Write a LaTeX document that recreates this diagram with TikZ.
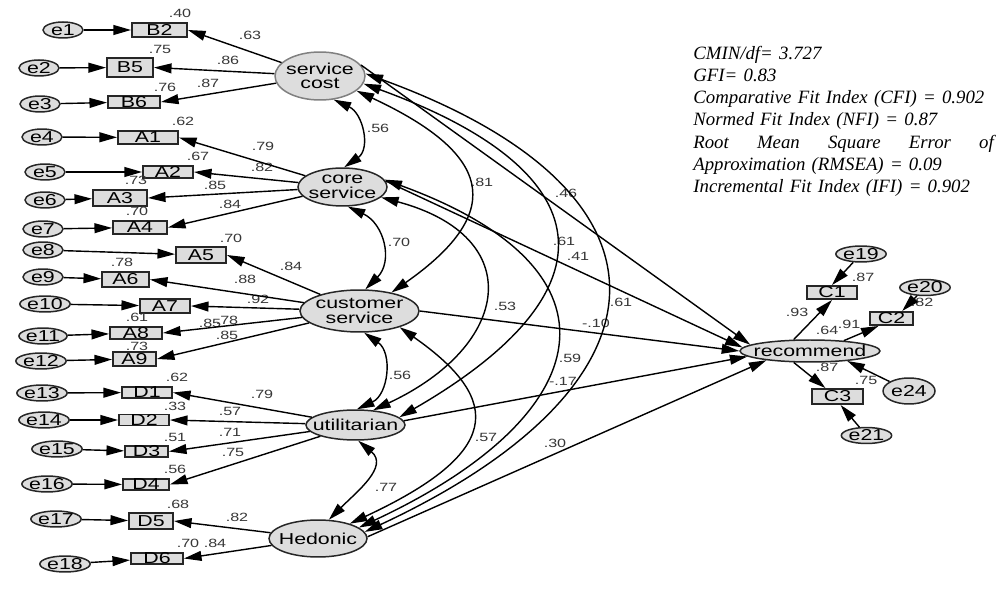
\documentclass[tikz,border=0pt]{standalone}
\usepackage{fontspec}
\setmainfont{Liberation Serif}
\newfontfamily\diagfont[FakeStretch=1.35]{Liberation Sans}
\usetikzlibrary{shapes.geometric,arrows.meta}
\definecolor{varfill}{RGB}{221,221,221}
\definecolor{coefgray}{RGB}{55,55,55}
\newcommand{\zw}[1]{\makebox[0pt]{#1}}

\begin{document}
\begin{tikzpicture}[
    x=0.02cm,
    y=-0.02cm,
    >={Triangle[length=10pt,width=5.6pt]},
    latent/.style={ellipse, draw=black!85, line width=0.85pt, fill=varfill, inner sep=0pt, align=center, font=\diagfont\fontsize{9}{8.2}\selectfont},
    errvar/.style={ellipse, draw=black!85, line width=0.85pt, fill=varfill, inner sep=0pt, minimum width=0.8cm, minimum height=0.32cm, font=\diagfont\fontsize{9}{9}\selectfont},
    obsvar/.style={rectangle, draw=black!85, line width=1.1pt, fill=varfill, inner sep=0pt, font=\diagfont\fontsize{9}{9}\selectfont},
    coef/.style={inner sep=0pt, text=coefgray, font=\diagfont\fontsize{6.8}{6.8}\selectfont},
    regpath/.style={->, line width=0.8pt},
    covarc/.style={<->, line width=0.8pt}
  ]
    \useasboundingbox (0,0) rectangle (1004,594);

    \node[latent, draw=black!50, minimum width=1.8cm, minimum height=0.96cm] (sc) at (320,76) {\zw{service}\\\zw{cost}};
    \node[latent, minimum width=1.78cm, minimum height=0.76cm] (core) at (342.5,187) {\zw{core}\\\zw{service}};
    \node[latent, minimum width=2.38cm, minimum height=0.84cm] (cust) at (359.5,311) {\zw{customer}\\\zw{service}};
    \node[latent, minimum width=1.98cm, minimum height=0.6cm] (util) at (355.5,425) {\zw{utilitarian}};
    \node[latent, minimum width=1.96cm, minimum height=0.74cm] (hed) at (318,538.5) {\zw{Hedonic}};
    \node[latent, minimum width=2.8cm, minimum height=0.44cm] (rec) at (810,351) {\zw{recommend}};

    \foreach \nm/\x/\y/\w/\h in {
      B2/159.5/30/55/14, B5/130/67.5/46/19, B6/134/102/52/10,
      A1/148/137.5/60/13, A2/168/172/50/12, A3/120/198/54/16, A4/140/227.5/54/13,
      A5/201/255/50/16, A6/125.5/279.5/47/15, A7/165/306/50/14, A8/136/333/52/12, A9/134.5/359/43/14,
      D1/147/392.5/50/11, D2/144/420/50/10, D3/146.5/451.5/43/9, D4/146/484.5/46/11,
      D5/151/521/44/16, D6/157/558.5/52/9,
      C1/832/292.5/50/13, C2/891.5/318.5/43/13, C3/837.5/396.5/51/15} {
      \node[obsvar, minimum width=\w*0.02cm, minimum height=\h*0.02cm] (\nm) at (\x,\y) {\nm};
    }

    \foreach \nm/\x/\y in {
      e1/63/30, e2/39/68, e3/40/104, e4/42/137, e5/45/172, e6/45/200,
      e7/43/229, e8/43/250, e9/43/277, e10/45/304, e11/43/336, e12/41/361,
      e13/42/393, e14/44/420, e15/57/449, e16/47/484, e17/56/519, e18/65/564,
      e19/861/254, e20/925/287.5, e21/866.5/435.5} {
      \node[errvar] (\nm) at (\x,\y) {\nm};
    }
    \node[errvar, minimum width=1.04cm, minimum height=0.52cm] (e24) at (909,391) {e24};

    \node[anchor=north west, inner sep=0pt, text width=171pt, align=left,
      font=\itshape\fontsize{10.7}{12.6}\selectfont] (fitinfo) at (693,46) {%
      CMIN/df= 3.727\\
      GFI= 0.83\\
      Comparative Fit Index (CFI) = 0.902\\
      Normed Fit Index (NFI) = 0.87\\
      Root\hfill Mean\hfill Square\hfill Error\hfill of\\
      Approximation (RMSEA) = 0.09\\
      Incremental Fit Index (IFI) = 0.902};

    \foreach \i/\x/\y/\v in {
      1/180/13/.40, 2/250/35/.63, 3/160/49/.75, 4/228/60/.86, 5/165/87/.76, 6/208/83/.87,
      7/183/121/.62, 8/263/146/.79, 9/198/156/.67, 10/262/167/.82, 11/136/180/.73, 12/215/185/.85,
      13/230/204/.84, 14/137/211/.70, 15/231/238/.70, 16/291/266/.84, 17/122/262/.78, 18/245/279/.88,
      19/258/299/.92, 20/137/317/.61, 21/210/323/.85, 22/227/320/.78, 23/227/335/.85, 24/137/346/.73,
      25/177/377/.62, 26/262/394/.79, 27/175/406/.33, 28/230/411/.57, 29/175/437/.51, 30/230/432/.71,
      31/233/452/.75, 32/175/469/.56, 33/178/504/.68, 34/237/517/.82, 35/188/543/.70, 36/215/543/.84,
      37/378/128/.56, 38/399/242/.70, 39/482/182/.81, 40/566/193/.46, 41/564/241/.61, 42/578/256/.41,
      43/505/306/.53, 44/621/302/.61, 45/596/323/-.10, 46/570/358/.59, 47/400/375/.56, 48/563/381/-.17,
      49/486/437/.57, 50/555/443/.30, 51/386/487/.77,
      52/863/277/.87, 53/797/312/.93, 54/827/330/.64, 55/849/324/.91, 56/922/302/.82,
      57/827/367/.87, 58/866/380/.75} {
      \node[coef] (k\i) at (\x,\y) {\v};
    }

    \foreach \a/\b in {
      e1/B2, e2/B5, e3/B6, e4/A1, e5/A2, e6/A3, e7/A4, e8/A5, e9/A6,
      e10/A7, e11/A8, e12/A9, e13/D1, e14/D2, e15/D3, e16/D4, e17/D5, e18/D6} {
      \draw[regpath] (\a) -- (\b);
    }

    \foreach \b in {B2,B5,B6} {\draw[regpath] (sc) -- (\b.east);}
    \foreach \b in {A1,A2,A3,A4} {\draw[regpath] (core) -- (\b.east);}
    \foreach \b in {A5,A6,A7,A8,A9} {\draw[regpath] (cust) -- (\b.east);}
    \foreach \b in {D1,D2,D3,D4} {\draw[regpath] (util) -- (\b.east);}
    \foreach \b in {D5,D6} {\draw[regpath] (hed) -- (\b.east);}

    \draw[covarc] (sc.-60) .. controls +(-25:0.65cm) and +(35:0.65cm) .. (core.85);
    \draw[covarc] (core.-75) .. controls +(-25:0.8cm) and +(45:0.8cm) .. (cust.75);
    \draw[covarc] (cust.-78) .. controls +(-35:0.7cm) and +(25:0.7cm) .. (util.85);
    \draw[covarc] (util.-80) .. controls +(-40:0.8cm) and +(45:0.8cm) .. (hed.60);
    \draw[covarc] (sc.-22) .. controls +(-25:2.9cm) and +(35:2.9cm) .. (cust.30);
    \draw[covarc] (core.-15) .. controls +(-15:3.05cm) and +(25:3.05cm) .. (util.40);
    \draw[covarc] (cust.-22) .. controls +(-35:2.6cm) and +(25:3.3cm) .. (hed.25);
    \draw[covarc] (sc.-10) .. controls +(-20:5.1cm) and +(30:5.1cm) .. (util.10);
    \draw[covarc] (core.10) .. controls +(-20:5.3cm) and +(25:5.3cm) .. (hed.15);
    \draw[covarc] (sc.3) .. controls +(-20:6.95cm) and +(25:6.95cm) .. (hed.8);

    \draw[regpath] (sc.15) -- (rec.174);
    \draw[regpath] (core.8) -- (rec.177);
    \draw[regpath] (cust.east) -- (rec.180);
    \draw[regpath] (util.5) -- (rec.185);
    \draw[regpath] (hed.2) -- (rec.192);

    \draw[regpath] (rec.145) -- (C1.south);
    \draw[regpath] (rec.17) -- (C2.-150);
    \draw[regpath] (rec.-145) -- (C3.145);
    \draw[regpath] (e19) -- (C1.north);
    \draw[regpath] (e20) -- (C2.35);
    \draw[regpath] (e21) -- (C3.-70);
    \draw[regpath] (e24) -- (rec.-15);
  \end{tikzpicture}
\end{document}
